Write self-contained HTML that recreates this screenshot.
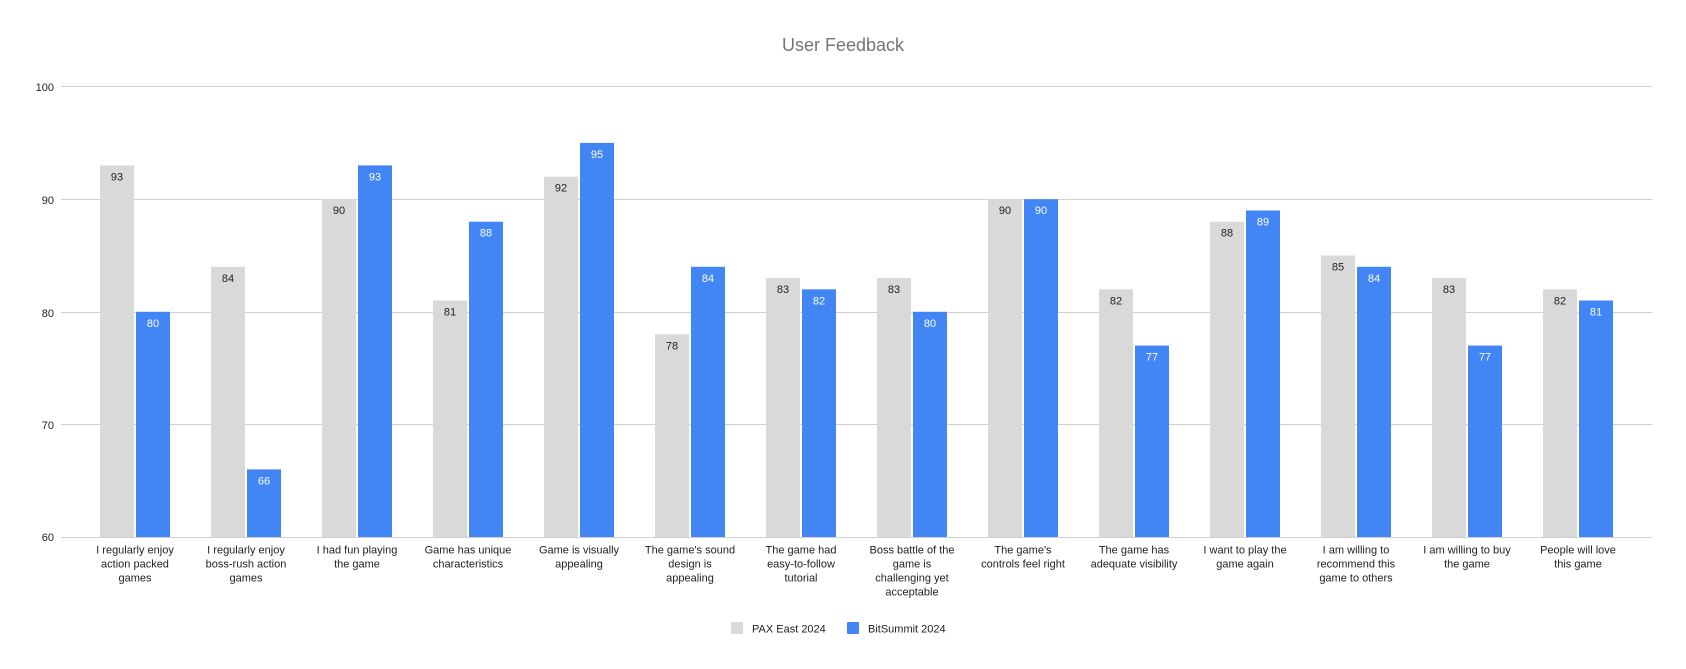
<!DOCTYPE html>
<html><head><meta charset="utf-8"><style>html,body{margin:0;padding:0;background:#fff}svg{display:block}</style></head>
<body>
<svg width="1686" height="669" viewBox="0 0 1686 669" xmlns="http://www.w3.org/2000/svg" font-family="Liberation Sans, Arial, sans-serif">
<text x="843" y="51" text-anchor="middle" font-size="18" fill="#757575">User Feedback</text>
<g stroke="#d0d0d0" stroke-width="1">
<line x1="61" y1="86.5" x2="1652" y2="86.5"/>
<line x1="61" y1="199.5" x2="1652" y2="199.5"/>
<line x1="61" y1="312.5" x2="1652" y2="312.5"/>
<line x1="61" y1="424.5" x2="1652" y2="424.5"/>
<line x1="61" y1="537.5" x2="1652" y2="537.5"/>
</g>
<g font-size="11" fill="#222" text-anchor="end">
<text x="54" y="91">100</text><text x="54" y="204">90</text><text x="54" y="317">80</text><text x="54" y="429">70</text><text x="54" y="541">60</text>
</g>
<g fill="#d9d9d9">
<rect x="100" y="165.4" width="34" height="371.6"/>
<rect x="211" y="266.8" width="34" height="270.2"/>
<rect x="322" y="199.2" width="34" height="337.8"/>
<rect x="433" y="300.5" width="34" height="236.5"/>
<rect x="544" y="176.7" width="34" height="360.3"/>
<rect x="655" y="334.3" width="34" height="202.7"/>
<rect x="766" y="278" width="34" height="259"/>
<rect x="877" y="278" width="34" height="259"/>
<rect x="988" y="199.2" width="34" height="337.8"/>
<rect x="1099" y="289.3" width="34" height="247.7"/>
<rect x="1210" y="221.7" width="34" height="315.3"/>
<rect x="1321" y="255.5" width="34" height="281.5"/>
<rect x="1432" y="278" width="34" height="259"/>
<rect x="1543" y="289.3" width="34" height="247.7"/>
</g>
<g fill="#4285f4">
<rect x="136" y="311.8" width="34" height="225.2"/>
<rect x="247" y="469.4" width="34" height="67.6"/>
<rect x="358" y="165.4" width="34" height="371.6"/>
<rect x="469" y="221.7" width="34" height="315.3"/>
<rect x="580" y="142.9" width="34" height="394.1"/>
<rect x="691" y="266.8" width="34" height="270.2"/>
<rect x="802" y="289.3" width="34" height="247.7"/>
<rect x="913" y="311.8" width="34" height="225.2"/>
<rect x="1024" y="199.2" width="34" height="337.8"/>
<rect x="1135" y="345.6" width="34" height="191.4"/>
<rect x="1246" y="210.5" width="34" height="326.5"/>
<rect x="1357" y="266.8" width="34" height="270.2"/>
<rect x="1468" y="345.6" width="34" height="191.4"/>
<rect x="1579" y="300.5" width="34" height="236.5"/>
</g>
<g font-size="11" fill="#222" text-anchor="middle">
<text x="117" y="180.4">93</text><text x="228" y="281.8">84</text><text x="339" y="214.2">90</text><text x="450" y="315.5">81</text><text x="561" y="191.7">92</text><text x="672" y="349.3">78</text><text x="783" y="293">83</text><text x="894" y="293">83</text><text x="1005" y="214.2">90</text><text x="1116" y="304.3">82</text><text x="1227" y="236.7">88</text><text x="1338" y="270.5">85</text><text x="1449" y="293">83</text><text x="1560" y="304.3">82</text>
</g>
<g font-size="11" fill="#fff" text-anchor="middle">
<text x="153" y="326.8">80</text><text x="264" y="484.4">66</text><text x="375" y="180.4">93</text><text x="486" y="236.7">88</text><text x="597" y="157.9">95</text><text x="708" y="281.8">84</text><text x="819" y="304.3">82</text><text x="930" y="326.8">80</text><text x="1041" y="214.2">90</text><text x="1152" y="360.6">77</text><text x="1263" y="225.5">89</text><text x="1374" y="281.8">84</text><text x="1485" y="360.6">77</text><text x="1596" y="315.5">81</text>
</g>
<g font-size="11" fill="#222" text-anchor="middle">
<text x="135" y="553.5">I regularly enjoy</text><text x="135" y="567.5">action packed</text><text x="135" y="581.5">games</text>
<text x="246" y="553.5">I regularly enjoy</text><text x="246" y="567.5">boss-rush action</text><text x="246" y="581.5">games</text>
<text x="357" y="553.5">I had fun playing</text><text x="357" y="567.5">the game</text>
<text x="468" y="553.5">Game has unique</text><text x="468" y="567.5">characteristics</text>
<text x="579" y="553.5">Game is visually</text><text x="579" y="567.5">appealing</text>
<text x="690" y="553.5">The game's sound</text><text x="690" y="567.5">design is</text><text x="690" y="581.5">appealing</text>
<text x="801" y="553.5">The game had</text><text x="801" y="567.5">easy-to-follow</text><text x="801" y="581.5">tutorial</text>
<text x="912" y="553.5">Boss battle of the</text><text x="912" y="567.5">game is</text><text x="912" y="581.5">challenging yet</text><text x="912" y="595.5">acceptable</text>
<text x="1023" y="553.5">The game's</text><text x="1023" y="567.5">controls feel right</text>
<text x="1134" y="553.5">The game has</text><text x="1134" y="567.5">adequate visibility</text>
<text x="1245" y="553.5">I want to play the</text><text x="1245" y="567.5">game again</text>
<text x="1356" y="553.5">I am willing to</text><text x="1356" y="567.5">recommend this</text><text x="1356" y="581.5">game to others</text>
<text x="1467" y="553.5">I am willing to buy</text><text x="1467" y="567.5">the game</text>
<text x="1578" y="553.5">People will love</text><text x="1578" y="567.5">this game</text>
</g>
<rect x="731" y="622" width="12" height="12" rx="1" fill="#d9d9d9"/>
<text x="752" y="632.5" font-size="11" fill="#222">PAX East 2024</text>
<rect x="847" y="622" width="12" height="12" rx="1" fill="#4285f4"/>
<text x="868" y="632.5" font-size="11" fill="#222">BitSummit 2024</text>
</svg>
</body></html>
